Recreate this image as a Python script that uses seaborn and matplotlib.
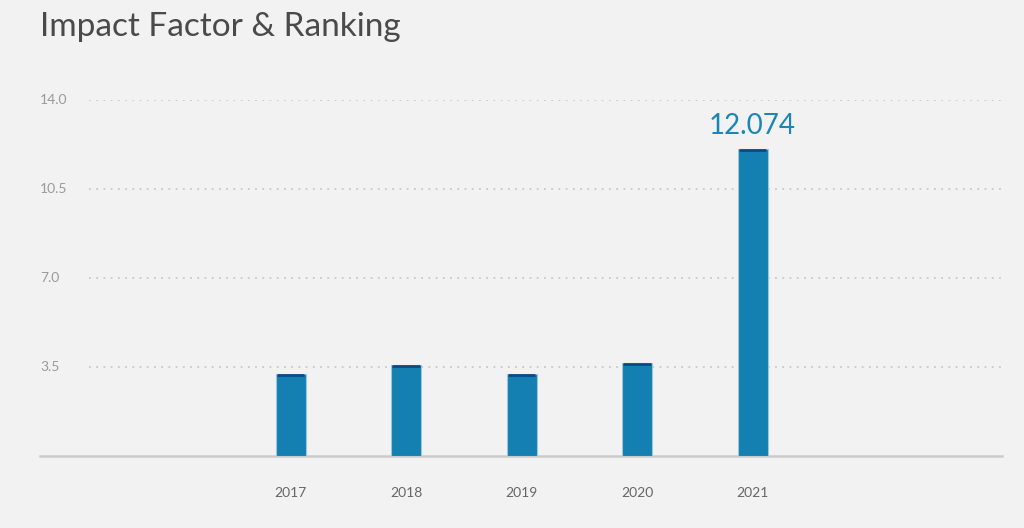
import matplotlib
matplotlib.use('Agg')
import matplotlib.pyplot as plt
import seaborn as sns
import pandas as pd

# Impact factor per year
years = [2017, 2018, 2019, 2020, 2021]
impact = [3.23, 3.57, 3.23, 3.66, 12.074]
y_ticks = [3.5, 7.0, 10.5, 14.0]
y_labels = ['3.5', '7.0', '10.5', '14.0']

data = pd.DataFrame({'Year': years, 'Impact': impact})

sns.set_theme(style='white')
plt.rcParams['font.family'] = ['Lato', 'DejaVu Sans']

bg = '#f2f2f2'
bar_color = '#1380b1'

fig = plt.figure(figsize=(10.24, 5.28), dpi=100, facecolor=bg)
ax = fig.add_axes([40 / 1024, 72 / 528, 962 / 1024, 356 / 528])
ax.set_facecolor(bg)

sns.barplot(data=data, x='Year', y='Impact', native_scale=True, width=0.26,
            color=bar_color, saturation=1, edgecolor='#9cc6dc', linewidth=0.8,
            ax=ax, zorder=3)

# dark cap on top of each bar
for p in ax.patches:
    ax.hlines(p.get_height() - 0.04, p.get_x() + 0.01, p.get_x() + p.get_width() - 0.01,
              color='#0b4a85', linewidth=2, zorder=4)

ax.set_xlim(2014.83, 2023.16)
ax.set_ylim(0, 14)

# dotted gridlines, starting right of the tick labels
for t in y_ticks:
    ax.axhline(t, xmin=0.051, xmax=1, color='#c8c8c8', linestyle=(0, (1, 3)),
               linewidth=1.3, zorder=1)

# y labels drawn inside the axes on the left
ax.set_yticks([])
for t, lab in zip(y_ticks, y_labels):
    ax.text(0.0, t, lab, transform=ax.get_yaxis_transform(), ha='left', va='center',
            fontsize=10, color='#9a9a9a')

ax.set_xticks(years)
ax.set_xticklabels([str(y) for y in years], fontsize=10, color='#666666')
ax.tick_params(axis='x', length=0, pad=22)
ax.set_xlabel('')
ax.set_ylabel('')

for s in ['top', 'right', 'left']:
    ax.spines[s].set_visible(False)
ax.spines['bottom'].set_color('#cccccc')
ax.spines['bottom'].set_linewidth(1.8)

# value label on the latest year
ax.annotate(f'{impact[-1]:.3f}', xy=(years[-1], impact[-1]), xytext=(0, 7),
            textcoords='offset points', ha='center', va='bottom',
            fontsize=20, color='#1a86b5')

fig.text(40 / 1024, 1 - 36 / 528, 'Impact Factor & Ranking', ha='left', va='baseline',
         fontsize=24, color='#4a4a4a')

fig.savefig('out.png', dpi=100, facecolor=bg)
